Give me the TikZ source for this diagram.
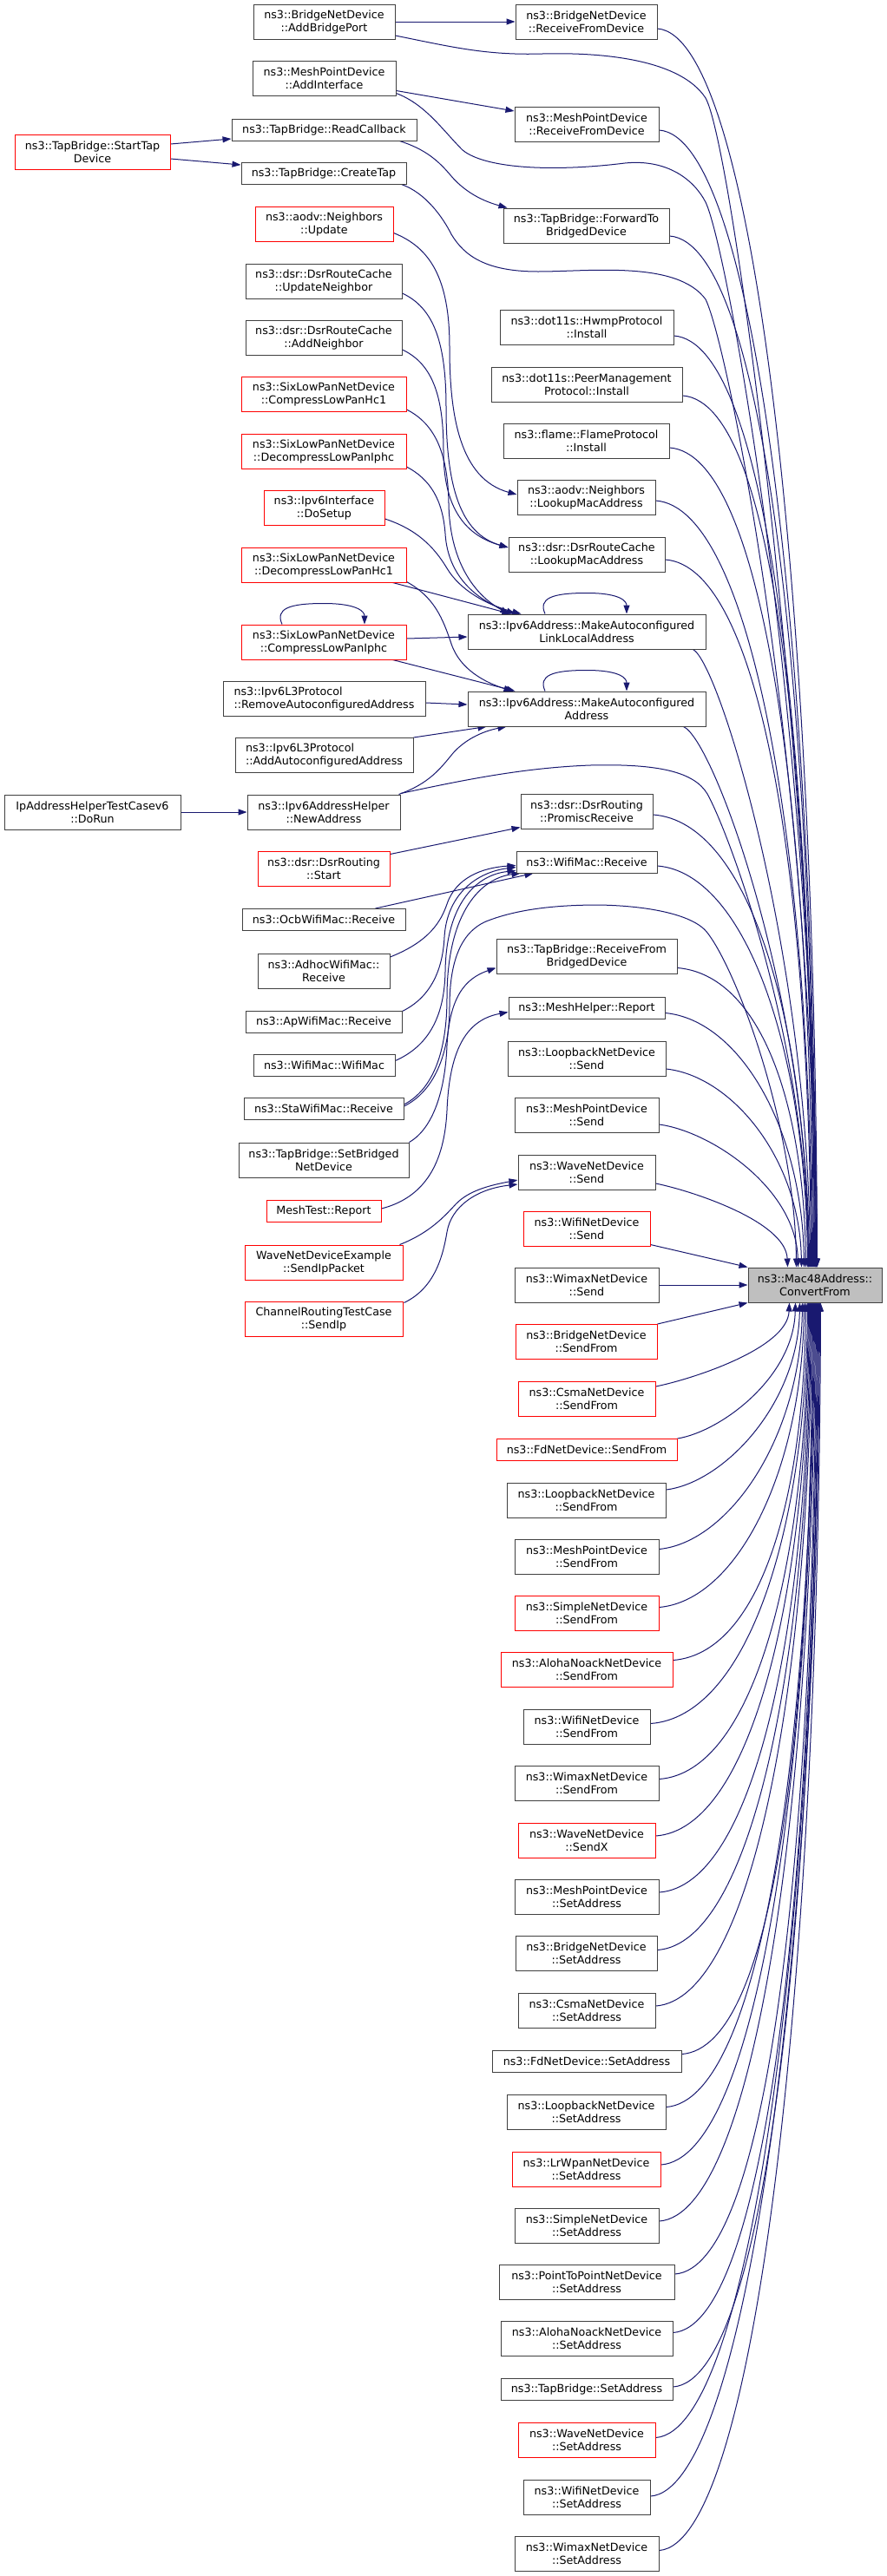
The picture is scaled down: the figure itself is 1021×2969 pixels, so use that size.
\documentclass[tikz,border=0pt]{standalone}
\usepackage{fontspec}
\setmainfont{DejaVu Sans}
\usetikzlibrary{arrows.meta,calc}
\definecolor{edgec}{RGB}{25,25,112}
\definecolor{boxc}{RGB}{64,64,64}
\definecolor{redc}{RGB}{255,0,0}
\definecolor{macfill}{RGB}{191,191,191}
\pgfdeclarelayer{bg}
\pgfdeclarelayer{edges}
\pgfsetlayers{bg,edges,main}
\tikzset{
  fn/.style={draw=boxc, line width=1pt, fill=white, inner sep=0pt, align=center, font=\fontsize{12.7}{15}\selectfont},
  fnr/.style={fn, draw=redc},
  fnl/.style={fn, align=left},
  fnm/.style={fn, fill=macfill},
  cedge/.style={draw=edgec, line width=1pt, -{Triangle[length=10pt,width=7pt]}},
}
\newcommand\fnode[7]{\node[#6, minimum width=#4pt, minimum height=#5pt] (#1) at (#2,#3) {#7};}
\newcommand\uedge[4]{\draw[cedge] let \p1=($(#1.east)+(0,#2)$), \p2=($(mac48.north west)+(#3,0)$) in (\p1) .. controls ($(\p1)+(#4,8)$) and (\x2-2pt,{0.55*\y1+0.45*\y2}) .. (\p2);}
\newcommand\ledge[4]{\draw[cedge] let \p1=($(#1.east)+(0,#2)$), \p2=($(mac48.south west)+(#3,0)$) in (\p1) .. controls ($(\p1)+(#4,-8)$) and (\x2-2pt,{0.55*\y1+0.45*\y2}) .. (\p2);}
\begin{document}
\begin{tikzpicture}[x=1pt,y=-1pt]
\useasboundingbox (0,0) rectangle (1021,2969);
\begin{pgfonlayer}{bg}
\fill[white] (0,0) rectangle (1021,2969);
\end{pgfonlayer}
% column 1
\fnode{startTap}{106.5}{175}{179}{40}{fnr}{ns3::TapBridge::StartTap\\Device}
\fnode{doRun}{106.5}{936}{203}{40}{fn}{IpAddressHelperTestCasev6\\::DoRun}
% column 2
\fnode{addBridgePort}{373.5}{25}{163}{40}{fn}{ns3::BridgeNetDevice\\::AddBridgePort}
\fnode{addInterface}{373.5}{90.5}{165}{40}{fn}{ns3::MeshPointDevice\\::AddInterface}
\fnode{readCallback}{373.5}{149.5}{213}{25}{fn}{ns3::TapBridge::ReadCallback}
\fnode{createTap}{373}{199.5}{190}{25}{fn}{ns3::TapBridge::CreateTap}
\fnode{aodvUpdate}{373.5}{258.5}{159}{40}{fnr}{ns3::aodv::Neighbors\\::Update}
\fnode{updNeighbor}{373}{324}{180}{40}{fn}{ns3::dsr::DsrRouteCache\\::UpdateNeighbor}
\fnode{addNeighbor}{373}{389}{180}{40}{fn}{ns3::dsr::DsrRouteCache\\::AddNeighbor}
\fnode{compHc1}{373}{454}{190}{40}{fnr}{ns3::SixLowPanNetDevice\\::CompressLowPanHc1}
\fnode{decompIphc}{373}{520}{190}{40}{fnr}{ns3::SixLowPanNetDevice\\::DecompressLowPanIphc}
\fnode{doSetup}{373.5}{585}{139}{40}{fnr}{ns3::Ipv6Interface\\::DoSetup}
\fnode{decompHc1}{373}{651}{190}{40}{fnr}{ns3::SixLowPanNetDevice\\::DecompressLowPanHc1}
\fnode{compIphc}{373}{740}{190}{40}{fnr}{ns3::SixLowPanNetDevice\\::CompressLowPanIphc}
\fnode{removeAddr}{373.5}{805}{233}{40}{fnl}{ns3::Ipv6L3Protocol\\::RemoveAutoconfiguredAddress}
\fnode{addAddr}{373.5}{870.5}{205}{40}{fnl}{ns3::Ipv6L3Protocol\\::AddAutoconfiguredAddress}
\fnode{newAddress}{373}{936}{176}{40}{fn}{ns3::Ipv6AddressHelper\\::NewAddress}
\fnode{dsrStart}{373}{1001}{152}{40}{fnr}{ns3::dsr::DsrRouting\\::Start}
\fnode{ocbRecv}{373}{1060}{188}{25}{fn}{ns3::OcbWifiMac::Receive}
\fnode{adhocRecv}{373}{1119}{152}{40}{fn}{ns3::AdhocWifiMac::\\Receive}
\fnode{apRecv}{373}{1177.5}{180}{25}{fn}{ns3::ApWifiMac::Receive}
\fnode{wifiMacCtor}{373.5}{1227.5}{163}{25}{fn}{ns3::WifiMac::WifiMac}
\fnode{staRecv}{373}{1278}{184}{25}{fn}{ns3::StaWifiMac::Receive}
\fnode{setBridged}{373}{1337}{196}{40}{fn}{ns3::TapBridge::SetBridged\\NetDevice}
\fnode{meshTest}{373}{1396}{132}{25}{fnr}{MeshTest::Report}
\fnode{sendIpPacket}{373}{1455}{182}{40}{fnr}{WaveNetDeviceExample\\::SendIpPacket}
\fnode{sendIp}{373}{1520}{182}{40}{fnr}{ChannelRoutingTestCase\\::SendIp}
% column 3
\fnode{brRecvFromDev}{675.5}{25}{163}{40}{fn}{ns3::BridgeNetDevice\\::ReceiveFromDevice}
\fnode{mpRecvFromDev}{676}{143}{166}{40}{fn}{ns3::MeshPointDevice\\::ReceiveFromDevice}
\fnode{fwdToBridged}{675.5}{260}{191}{40}{fn}{ns3::TapBridge::ForwardTo\\BridgedDevice}
\fnode{hwmpInstall}{676}{377}{200}{40}{fn}{ns3::dot11s::HwmpProtocol\\::Install}
\fnode{peerInstall}{676}{443}{220}{40}{fn}{ns3::dot11s::PeerManagement\\Protocol::Install}
\fnode{flameInstall}{675.5}{508}{191}{40}{fn}{ns3::flame::FlameProtocol\\::Install}
\fnode{aodvLookup}{675.5}{573}{159}{40}{fn}{ns3::aodv::Neighbors\\::LookupMacAddress}
\fnode{dsrLookup}{676}{639}{180}{40}{fn}{ns3::dsr::DsrRouteCache\\::LookupMacAddress}
\fnode{linkLocal}{676}{728}{274}{40}{fn}{ns3::Ipv6Address::MakeAutoconfigured\\LinkLocalAddress}
\fnode{makeAddr}{676}{817}{274}{40}{fn}{ns3::Ipv6Address::MakeAutoconfigured\\Address}
\fnode{promisc}{676}{935}{152}{40}{fn}{ns3::dsr::DsrRouting\\::PromiscReceive}
\fnode{wifiMacRecv}{676}{993.5}{162}{25}{fn}{ns3::WifiMac::Receive}
\fnode{recvFromBridged}{676}{1102.5}{208}{40}{fn}{ns3::TapBridge::ReceiveFrom\\BridgedDevice}
\fnode{meshHelper}{676}{1161.5}{180}{25}{fn}{ns3::MeshHelper::Report}
\fnode{loopSend}{676}{1220}{182}{40}{fn}{ns3::LoopbackNetDevice\\::Send}
\fnode{mpSend}{676}{1285}{166}{40}{fn}{ns3::MeshPointDevice\\::Send}
\fnode{waveSend}{676}{1351}{158}{40}{fn}{ns3::WaveNetDevice\\::Send}
\fnode{wifiSend}{676}{1416}{146}{40}{fnr}{ns3::WifiNetDevice\\::Send}
\fnode{wimaxSend}{676}{1481}{166}{40}{fn}{ns3::WimaxNetDevice\\::Send}
\fnode{brSendFrom}{675.5}{1546.5}{163}{40}{fnr}{ns3::BridgeNetDevice\\::SendFrom}
\fnode{csmaSendFrom}{676}{1612}{158}{40}{fnr}{ns3::CsmaNetDevice\\::SendFrom}
\fnode{fdSendFrom}{676}{1670.5}{208}{25}{fnr}{ns3::FdNetDevice::SendFrom}
\fnode{loopSendFrom}{675.5}{1729}{183}{40}{fn}{ns3::LoopbackNetDevice\\::SendFrom}
\fnode{mpSendFrom}{676}{1794.5}{166}{40}{fn}{ns3::MeshPointDevice\\::SendFrom}
\fnode{simpleSendFrom}{676}{1859.5}{166}{40}{fnr}{ns3::SimpleNetDevice\\::SendFrom}
\fnode{alohaSendFrom}{676}{1924.5}{198}{40}{fnr}{ns3::AlohaNoackNetDevice\\::SendFrom}
\fnode{wifiSendFrom}{676}{1990.5}{146}{40}{fn}{ns3::WifiNetDevice\\::SendFrom}
\fnode{wimaxSendFrom}{676}{2055.5}{166}{40}{fn}{ns3::WimaxNetDevice\\::SendFrom}
\fnode{waveSendX}{676}{2121}{158}{40}{fnr}{ns3::WaveNetDevice\\::SendX}
\fnode{mpSetAddr}{676}{2186}{166}{40}{fn}{ns3::MeshPointDevice\\::SetAddress}
\fnode{brSetAddr}{675.5}{2251.5}{163}{40}{fn}{ns3::BridgeNetDevice\\::SetAddress}
\fnode{csmaSetAddr}{676}{2317}{158}{40}{fn}{ns3::CsmaNetDevice\\::SetAddress}
\fnode{fdSetAddr}{676}{2375.5}{218}{25}{fn}{ns3::FdNetDevice::SetAddress}
\fnode{loopSetAddr}{675.5}{2434.5}{183}{40}{fn}{ns3::LoopbackNetDevice\\::SetAddress}
\fnode{lrwpanSetAddr}{675.5}{2500}{171}{40}{fnr}{ns3::LrWpanNetDevice\\::SetAddress}
\fnode{simpleSetAddr}{676}{2565}{166}{40}{fn}{ns3::SimpleNetDevice\\::SetAddress}
\fnode{ptpSetAddr}{676}{2630}{202}{40}{fn}{ns3::PointToPointNetDevice\\::SetAddress}
\fnode{alohaSetAddr}{676}{2695.5}{198}{40}{fn}{ns3::AlohaNoackNetDevice\\::SetAddress}
\fnode{tapSetAddr}{676}{2754}{198}{25}{fn}{ns3::TapBridge::SetAddress}
\fnode{waveSetAddr}{676}{2812.5}{158}{40}{fnr}{ns3::WaveNetDevice\\::SetAddress}
\fnode{wifiSetAddr}{676}{2878}{146}{40}{fn}{ns3::WifiNetDevice\\::SetAddress}
\fnode{wimaxSetAddr}{676}{2943.5}{166}{40}{fn}{ns3::WimaxNetDevice\\::SetAddress}
% column 4
\fnode{mac48}{939}{1481}{154}{40}{fnm}{ns3::Mac48Address::\\ConvertFrom}

\begin{pgfonlayer}{edges}
% col1 -> col2
\draw[cedge] ($(startTap.east)+(0,-9)$) -- ($(readCallback.west)+(0,10.5)$);
\draw[cedge] ($(startTap.east)+(0,8)$) -- ($(createTap.west)+(0,-9.5)$);
\draw[cedge] (doRun.east) -- (newAddress.west);
% col2 -> col3
\draw[cedge] (addBridgePort.east) -- (brRecvFromDev.west);
\draw[cedge] ($(addInterface.east)+(0,14)$) -- ($(mpRecvFromDev.west)+(0,-15)$);
\draw[cedge] ($(readCallback.south east)+(-20,0)$) .. controls (490,172) and (505,185) .. (520,203) .. controls (532,217) and (550,230) .. ($(fwdToBridged.north west)+(5,0)$);
\draw[cedge] ($(aodvUpdate.east)+(0,10)$) .. controls (495,285) and (518,320) .. (518,400) .. controls (518,480) and (530,552) .. ($(aodvLookup.west)+(0,-3)$);
\draw[cedge] ($(updNeighbor.east)+(0,14)$) .. controls (500,355) and (514,395) .. (514,470) .. controls (514,560) and (530,615) .. ($(dsrLookup.west)+(0,-8)$);
\draw[cedge] ($(addNeighbor.east)+(0,14)$) .. controls (500,420) and (511,460) .. (511,520) .. controls (511,580) and (532,616) .. ($(dsrLookup.west)+(0,-8)$);
\draw[cedge] ($(compHc1.east)+(0,18)$) .. controls (500,488) and (516,520) .. (517,580) .. controls (518,645) and (545,685) .. ($(linkLocal.north west)+(48,0)$);
\draw[cedge] ($(decompIphc.east)+(0,18)$) .. controls (495,552) and (510,575) .. (513,615) .. controls (516,665) and (550,692) .. ($(linkLocal.north west)+(55,0)$);
\draw[cedge] ($(doSetup.east)+(0,13)$) .. controls (480,610) and (500,630) .. (515,655) .. controls (530,680) and (560,697) .. ($(linkLocal.north west)+(62,0)$);
\draw[cedge] ($(decompHc1.south east)+(-16,0)$) -- ($(linkLocal.north west)+(50,0)$);
\draw[cedge] ($(decompHc1.south east)+(0,-1)$) .. controls (500,688) and (510,712) .. (520,742) .. controls (530,772) and (560,787) .. ($(makeAddr.north west)+(52,0)$);
\draw[cedge] ($(compIphc.east)+(0,-4)$) -- ($(linkLocal.west)+(0,6)$);
\draw[cedge] ($(compIphc.south east)+(-16,0)$) -- ($(makeAddr.north west)+(55,0)$);
\draw[cedge] ($(removeAddr.east)+(0,5)$) -- ($(makeAddr.west)+(0,-5)$);
\draw[cedge] (addAddr.north east) -- ($(makeAddr.south west)+(22,0)$);
\draw[cedge] ($(newAddress.north east)+(-2,0)$) .. controls (495,903) and (508,885) .. (522,868) .. controls (538,850) and (560,842) .. ($(makeAddr.south west)+(45,0)$);
\draw[cedge] ($(dsrStart.north east)+(0,4)$) -- ($(promisc.south west)+(0,-2)$);
\draw[cedge] ($(ocbRecv.north east)+(-35,0)$) -- ($(wifiMacRecv.south west)+(20,0)$);
\draw[cedge] ($(adhocRecv.east)+(0,-16)$) .. controls (495,1085) and (508,1062) .. (515,1042) .. controls (525,1012) and (555,1000) .. ($(wifiMacRecv.west)+(0,4)$);
\draw[cedge] ($(apRecv.north east)+(0,1)$) .. controls (495,1150) and (510,1120) .. (512,1080) .. controls (515,1030) and (550,1005) .. ($(wifiMacRecv.west)+(0,6)$);
\draw[cedge] ($(wifiMacCtor.east)+(0,-5)$) .. controls (495,1205) and (512,1170) .. (513,1120) .. controls (514,1040) and (550,1008) .. ($(wifiMacRecv.south west)+(0,-3)$);
\draw[cedge] ($(staRecv.east)+(0,-5)$) .. controls (500,1255) and (515,1210) .. (515,1150) .. controls (515,1050) and (555,1012) .. ($(wifiMacRecv.south west)+(5,0)$);
\draw[cedge] (setBridged.north east) .. controls (500,1300) and (513,1255) .. (515,1205) .. controls (518,1150) and (535,1128) .. ($(recvFromBridged.west)+(0,13)$);
\draw[cedge] ($(meshTest.east)+(0,-3)$) .. controls (490,1380) and (512,1340) .. (515,1280) .. controls (518,1205) and (540,1175) .. ($(meshHelper.west)+(0,5)$);
\draw[cedge] ($(sendIpPacket.north east)+(-4,0)$) .. controls (495,1421) and (512,1402) .. (525,1388) .. controls (540,1372) and (565,1366) .. ($(waveSend.west)+(0,9)$);
\draw[cedge] ($(sendIp.north east)+(1,2)$) .. controls (500,1485) and (510,1450) .. (515,1420) .. controls (520,1390) and (550,1370) .. ($(waveSend.west)+(0,14)$);
% self loops
\draw[cedge] ($(compIphc.north)+(-48,0)$) .. controls +(-8,-18) and +(-40,0) .. ($(compIphc.north)+(0,-24)$) .. controls +(40,0) and +(0,-14) .. ($(compIphc.north)+(47,0)$);
\draw[cedge] ($(linkLocal.north)+(-48,0)$) .. controls +(-8,-18) and +(-40,0) .. ($(linkLocal.north)+(0,-24)$) .. controls +(40,0) and +(0,-14) .. ($(linkLocal.north)+(46,0)$);
\draw[cedge] ($(makeAddr.north)+(-48,0)$) .. controls +(-8,-18) and +(-40,0) .. ($(makeAddr.north)+(0,-24)$) .. controls +(40,0) and +(0,-14) .. ($(makeAddr.north)+(46,0)$);
% col2 -> mac48 directly
\draw[cedge] ($(addBridgePort.east)+(0,16)$) .. controls (520,54) and (560,64) .. (625,62) .. controls (700,60) and (785,70) .. (813,113) .. controls (845,170) and (940,900) .. ($(mac48.north west)+(80,0)$);
\draw[cedge] ($(addInterface.east)+(0,17)$) .. controls (490,120) and (510,150) .. (533,173) .. controls (560,195) and (640,198) .. (720,188) .. controls (770,183) and (800,208) .. (813,233) .. controls (840,290) and (939,850) .. ($(mac48.north west)+(79,0)$);
\draw[cedge] ($(createTap.south east)+(-6,0)$) .. controls (490,222) and (510,250) .. (520,270) .. controls (535,295) and (560,313) .. (620,313) .. controls (680,313) and (780,300) .. (813,345) .. controls (840,400) and (938,900) .. ($(mac48.north west)+(78,0)$);
\draw[cedge] ($(newAddress.north east)+(0,-1)$) .. controls (530,900) and (600,885) .. (680,882) .. controls (760,880) and (800,890) .. (815,915) .. controls (840,960) and (930,1200) .. ($(mac48.north west)+(70,0)$);
\draw[cedge] ($(staRecv.east)+(0,-3)$) .. controls (500,1258) and (518,1215) .. (518,1160) .. controls (518,1110) and (530,1075) .. (560,1062) .. controls (600,1046) and (650,1043) .. (690,1043) .. controls (750,1044) and (800,1055) .. (815,1075) .. controls (850,1120) and (916,1300) .. ($(mac48.north west)+(56,0)$);
% col3 -> mac48 (above)
\uedge{brRecvFromDev}{8}{80}{110}
\uedge{mpRecvFromDev}{7}{79}{110}
\uedge{fwdToBridged}{12}{78}{110}
\uedge{hwmpInstall}{10}{77}{110}
\uedge{peerInstall}{13}{76}{110}
\uedge{flameInstall}{8}{75}{110}
\uedge{aodvLookup}{4}{74}{110}
\uedge{dsrLookup}{6}{73}{110}
\draw[cedge] ($(linkLocal.south east)+(-15,0)$) .. controls +(30,15) and (932,1100) .. ($(mac48.north west)+(72,0)$);
\draw[cedge] ($(makeAddr.south east)+(-26,0)$) .. controls +(35,15) and (931,1150) .. ($(mac48.north west)+(71,0)$);
\uedge{promisc}{4}{70}{110}
\uedge{wifiMacRecv}{4.5}{69}{100}
\uedge{recvFromBridged}{13}{67}{95}
\uedge{meshHelper}{6}{65}{85}
\uedge{loopSend}{12}{62}{75}
\uedge{mpSend}{11}{58}{60}
\uedge{waveSend}{13}{46}{40}
\draw[cedge] ($(wifiSend.south east)+(0,-2)$) -- (mac48.north west);
\draw[cedge] (wimaxSend.east) -- (mac48.west);
% col3 -> mac48 (below)
\draw[cedge] (brSendFrom.north east) -- (mac48.south west);
\ledge{csmaSendFrom}{-14}{48}{40}
\ledge{fdSendFrom}{-12.5}{55}{50}
\ledge{loopSendFrom}{-12}{60}{65}
\ledge{mpSendFrom}{-9}{63}{80}
\ledge{simpleSendFrom}{-7}{65}{90}
\ledge{alohaSendFrom}{-11}{67}{100}
\ledge{wifiSendFrom}{-4}{69}{110}
\ledge{wimaxSendFrom}{-5}{70}{110}
\ledge{waveSendX}{-5}{71}{110}
\ledge{mpSetAddr}{-5}{72}{110}
\ledge{brSetAddr}{-4}{73}{110}
\ledge{csmaSetAddr}{-5}{74}{110}
\ledge{fdSetAddr}{-8}{75}{110}
\ledge{loopSetAddr}{-6}{76}{110}
\ledge{lrwpanSetAddr}{-5}{77}{110}
\ledge{simpleSetAddr}{-5}{78}{110}
\ledge{ptpSetAddr}{-9}{79}{110}
\ledge{alohaSetAddr}{-7}{80}{110}
\ledge{tapSetAddr}{-3}{81}{110}
\ledge{waveSetAddr}{-3}{82}{110}
\ledge{wifiSetAddr}{-1}{83}{110}
\ledge{wimaxSetAddr}{-4}{84}{110}
\end{pgfonlayer}
\end{tikzpicture}
\end{document}
